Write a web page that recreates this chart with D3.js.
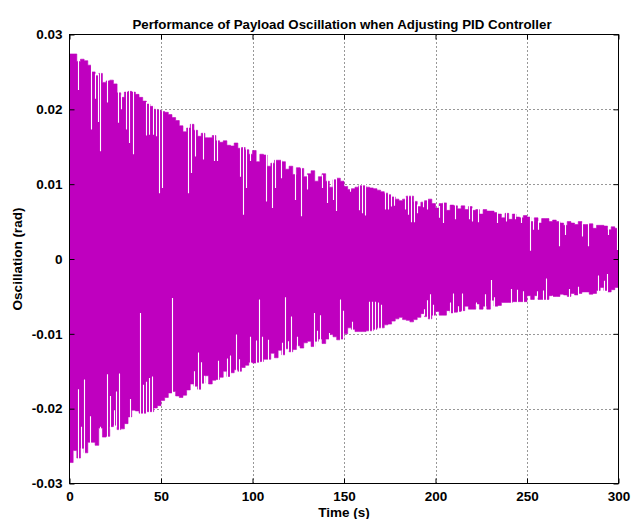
<!DOCTYPE html>
<html>
<head>
<meta charset="utf-8">
<script src="https://cdn.jsdelivr.net/npm/d3@7"></script>
<style>
  html, body { margin: 0; padding: 0; background: #fff; }
  svg { display: block; }
  text { font-family: "Liberation Sans", Arial, Helvetica, sans-serif; font-weight: bold; fill: #000; }
</style>
</head>
<body>
<svg id="chart" width="631" height="519"></svg>
<script>
// ---------- data ----------
const title = "Performance of Payload Oscillation when Adjusting PID Controller";
const xLabel = "Time (s)";
const yLabel = "Oscillation (rad)";
const xTicks = [0, 50, 100, 150, 200, 250, 300];
const yTicks = [-0.03, -0.02, -0.01, 0, 0.01, 0.02, 0.03];

// sampling instants of the peak envelope (s)
const time = [
  0,2,4,6,8,10,12,14,16,18, 20,22,24,26,28,30,32,34,36,38,
  40,42,44,46,48,50,52,54,56,58, 60,62,64,66,68,70,72,74,76,78,
  80,82,84,86,88,90,92,94,96,98, 100,102,104,106,108,110,112,114,116,118,
  120,122,124,126,128,130,132,134,136,138, 140,142,144,146,148,150,152,154,156,158,
  160,162,164,166,168,170,172,174,176,178, 180,182,184,186,188,190,192,194,196,198,
  200,202,204,206,208,210,212,214,216,218, 220,222,224,226,228,230,232,234,236,238,
  240,242,244,246,248,250,252,254,256,258, 260,262,264,266,268,270,272,274,276,278,
  280,282,284,286,288,290,292,294,296,298, 300
];
// positive peaks of the oscillation (rad)
const upperPeak = [
  .0274,.0274,.0264,.0267,.0265,.0259,.0250,.0245,.0248,.0236,
  .0238,.0239,.0234,.0222,.0216,.0223,.0224,.0223,.0220,.0216,
  .0211,.0207,.0204,.0200,.0199,.0197,.0196,.0193,.0189,.0185,
  .0178,.0170,.0175,.0180,.0172,.0164,.0168,.0162,.0162,.0165,
  .0158,.0156,.0158,.0152,.0151,.0155,.0148,.0149,.0146,.0140,
  .0145,.0130,.0140,.0139,.0124,.0128,.0132,.0132,.0130,.0120,
  .0124,.0113,.0122,.0121,.0110,.0114,.0118,.0104,.0110,.0114,
  .0104,.0096,.0106,.0108,.0104,.0097,.0093,.0094,.0096,.0098,
  .0098,.0096,.0095,.0094,.0092,.0090,.0088,.0086,.0083,.0080,
  .0078,.0080,.0084,.0084,.0077,.0070,.0076,.0078,.0080,.0074,
  .0068,.0074,.0075,.0065,.0072,.0071,.0067,.0071,.0066,.0070,
  .0065,.0066,.0060,.0066,.0064,.0064,.0062,.0060,.0055,.0061,
  .0053,.0060,.0056,.0055,.0058,.0056,.0050,.0055,.0048,.0054,
  .0054,.0050,.0052,.0050,.0048,.0045,.0050,.0048,.0046,.0050,
  .0046,.0046,.0047,.0041,.0045,.0045,.0044,.0039,.0043,.0041,
  .0045
];
// negative peaks of the oscillation (rad)
const lowerPeak = [
  -.0272,-.0256,-.0266,-.0253,-.0259,-.0245,-.0245,-.0249,-.0226,-.0238,
  -.0237,-.0224,-.0222,-.0228,-.0227,-.0220,-.0211,-.0202,-.0203,-.0206,
  -.0206,-.0204,-.0204,-.0199,-.0196,-.0189,-.0185,-.0179,-.0177,-.0183,
  -.0185,-.0182,-.0175,-.0167,-.0170,-.0174,-.0166,-.0156,-.0167,-.0162,
  -.0161,-.0158,-.0150,-.0157,-.0152,-.0148,-.0150,-.0145,-.0142,-.0138,
  -.0139,-.0138,-.0137,-.0134,-.0134,-.0126,-.0132,-.0122,-.0128,-.0120,
  -.0124,-.0121,-.0116,-.0119,-.0112,-.0110,-.0117,-.0110,-.0107,-.0113,
  -.0107,-.0101,-.0104,-.0108,-.0107,-.0100,-.0092,-.0094,-.0097,-.0097,
  -.0097,-.0096,-.0096,-.0094,-.0092,-.0092,-.0088,-.0087,-.0083,-.0080,
  -.0078,-.0081,-.0082,-.0084,-.0081,-.0078,-.0073,-.0077,-.0080,-.0075,
  -.0070,-.0075,-.0075,-.0069,-.0072,-.0071,-.0070,-.0069,-.0063,-.0067,
  -.0067,-.0060,-.0067,-.0063,-.0067,-.0055,-.0063,-.0062,-.0058,-.0058,
  -.0058,-.0057,-.0057,-.0057,-.0057,-.0049,-.0054,-.0049,-.0054,-.0054,
  -.0054,-.0049,-.0050,-.0050,-.0047,-.0048,-.0050,-.0046,-.0048,-.0046,
  -.0044,-.0044,-.0047,-.0046,-.0042,-.0038,-.0042,-.0044,-.0041,-.0038,
  -.0036
];
// isolated lower positive peaks (visible as gaps in the upper envelope)
const topDipTime = [
  4.5,11.9,14.1,15.4,16.8, 20.3,26.3,28.1,31,32.7, 34.5,42,43.6,45.4,47.1,
  48.7,50.4,64.6,66.2,68.4, 72.8,78.8,80.4,93,94.6, 96.4,98.8,107.2,110.5,112.3,
  115.6,123.2,126.5,129.8,137.8, 140.7,144.2,145.6,153.3,158, 159.8,161.5,172.4,174.1,175.7,
  177.3,183.3,185,186.6,188.3, 190.1,193.4,195.2,201.7,204.1, 210.5,218.3,220.1,223.2,233.4,
  238.3,243.4,246.9,251.6,253.4, 256.2,267.5,270.8,280.3,283.3, 294.2,299
];
const topDipValue = [
  .0226,.0173,.0214,.0183,.0144, .0209,.0182,.0200,.0173,.0155, .0140,.0165,.0166,.0166,.0164,
  .0088,.0095,.0088,.0115,.0137, .0133,.0131,.0131,.0110,.0059, .0095,.0131,.0077,.0068,.0095,
  .0108,.0079,.0057,.0093,.0095, .0075,.0079,.0064,.0090,.0065, .0061,.0058,.0066,.0066,.0070,
  .0071,.0066,.0059,.0049,.0049, .0061,.0069,.0066,.0055,.0048, .0053,.0053,.0050,.0049,.0048,
  .0050,.0053,.0048,.0011,.0039, .0039,.0017,.0032,.0030,.0017, .0032,.0012
];
// isolated smaller negative peaks (gaps in the lower envelope)
const bottomDipTime = [
  4.8,6.5,8.1,11.4,16.5, 20.7,22.3,24.1,25.6,27.2, 33.2,38.3,40,41.6,43.3,
  44.9,55.8,68.2,70.1,71.7, 73.3,81.1,86.1,87.7,91, 92.6,98.4,101.7,103.4,105,
  108.3,116.1,117.8,119.4,121, 124.3,133.6,135.2,136.9,141.8, 147.8,149.5,154.4,163.7,165.3,
  167,168.6,170.2,193.7,195.4, 197,198.6,208,209.6,212.3, 214.5,222.1,227,230.3,232,
  241.3,244.5,247.8,255.5,258.7, 260.4,263.6,272.9,277.8,288.8, 292.1,293.7
];
const bottomDipValue = [
  -.0174,-.0224,-.0161,-.0210,-.0224, -.0154,-.0183,-.0202,-.0177,-.0153, -.0187,-.0072,-.0168,-.0164,-.0159,
  -.0157,-.0052,-.0150,-.0125,-.0138, -.0156,-.0136,-.0133,-.0129,-.0101, -.0134,-.0104,-.0109,-.0054,-.0104,
  -.0108,-.0112,-.0051,-.0110,-.0077, -.0104,-.0072,-.0096,-.0075,-.0099, -.0054,-.0069,-.0084,-.0057,-.0057,
  -.0057,-.0058,-.0061,-.0067,-.0055, -.0047,-.0061,-.0058,-.0046,-.0063, -.0046,-.0058,-.0047,-.0028,-.0051,
  -.0040,-.0041,-.0043,-.0043,-.0042, -.0026,-.0049,-.0040,-.0037,-.0022, -.0029,-.0020
];

// ---------- layout ----------
const plot = { left: 69.5, right: 618.5, top: 34.5, bottom: 483.5 };
const colorSignal = "#bf00bf";

const svg = d3.select("#chart");
const x = d3.scaleLinear().domain([0, 300]).range([plot.left, plot.right]);
const y = d3.scaleLinear().domain([-0.03, 0.03]).range([plot.bottom, plot.top]);

svg.append("defs").append("clipPath").attr("id", "clip")
  .append("rect").attr("x", plot.left).attr("y", plot.top)
  .attr("width", plot.right - plot.left).attr("height", plot.bottom - plot.top);

// grid (behind data)
const grid = svg.append("g").attr("stroke", "#303030").attr("stroke-width", 1)
  .attr("stroke-dasharray", "1,3").attr("fill", "none");
grid.selectAll("line.gx").data(xTicks.slice(1, -1)).join("line")
  .attr("x1", d => Math.round(x(d)) + 0.5).attr("x2", d => Math.round(x(d)) + 0.5)
  .attr("y1", plot.top).attr("y2", plot.bottom);
grid.selectAll("line.gy").data(yTicks.slice(1, -1)).join("line")
  .attr("y1", d => Math.round(y(d)) + 0.5).attr("y2", d => Math.round(y(d)) + 0.5)
  .attr("x1", plot.left).attr("x2", plot.right);

// signal envelope
const samples = time.map((t, i) => ({ t, hi: upperPeak[i], lo: lowerPeak[i] }));
const area = d3.area()
  .x(d => x(d.t))
  .y0(d => y(d.lo))
  .y1(d => y(d.hi))
  .curve(d3.curveStepAfter);
const dataG = svg.append("g").attr("clip-path", "url(#clip)");
dataG.append("path").datum(samples).attr("d", area)
  .attr("fill", colorSignal).attr("stroke", colorSignal).attr("stroke-width", 0.6);

// gaps where individual peaks fall short of the envelope
const stepIndex = t => Math.min(time.length - 1, Math.floor(t / 2));
const dips = topDipTime.map((t, i) => ({ t, from: upperPeak[stepIndex(t)], to: topDipValue[i] }))
  .concat(bottomDipTime.map((t, i) => ({ t, from: lowerPeak[stepIndex(t)], to: bottomDipValue[i] })));
dataG.selectAll("line.dip").data(dips).join("line")
  .attr("class", "dip")
  .attr("x1", d => Math.round(x(d.t)) + 0.5).attr("x2", d => Math.round(x(d.t)) + 0.5)
  .attr("y1", d => y(d.from) + (d.from > 0 ? -2 : 2)).attr("y2", d => y(d.to))
  .attr("stroke", "#fff").attr("stroke-width", 1.1);

// axes box
const axG = svg.append("g");
axG.append("rect").attr("x", plot.left).attr("y", plot.top)
  .attr("width", plot.right - plot.left).attr("height", plot.bottom - plot.top)
  .attr("fill", "none").attr("stroke", "#000").attr("stroke-width", 1);

const tickLen = 5;
const bottomAxis = d3.axisBottom(x).tickValues(xTicks).tickSizeInner(-tickLen).tickSizeOuter(0).tickPadding(8).tickFormat(d => String(d));
const topAxis = d3.axisTop(x).tickValues(xTicks).tickSizeInner(-tickLen).tickSizeOuter(0).tickFormat("");
const leftAxis = d3.axisLeft(y).tickValues(yTicks).tickSizeInner(-tickLen).tickSizeOuter(0).tickPadding(7)
  .tickFormat(d => d === 0 ? "0" : d.toFixed(2));
const rightAxis = d3.axisRight(y).tickValues(yTicks).tickSizeInner(-tickLen).tickSizeOuter(0).tickFormat("");

function styleAxis(g) {
  g.select(".domain").remove();
  g.selectAll(".tick line").attr("stroke", "#000");
  g.selectAll(".tick text").attr("font-size", 13.5)
    .attr("font-family", '"Liberation Sans", Arial, sans-serif').attr("font-weight", "bold").attr("fill", "#000");
}
svg.append("g").attr("transform", `translate(0,${plot.bottom})`).call(bottomAxis).call(styleAxis);
svg.append("g").attr("transform", `translate(0,${plot.top})`).call(topAxis).call(styleAxis);
svg.append("g").attr("transform", `translate(${plot.left},0)`).call(leftAxis).call(styleAxis);
svg.append("g").attr("transform", `translate(${plot.right},0)`).call(rightAxis).call(styleAxis);

// title and labels
const cx = (plot.left + plot.right) / 2;
svg.append("text").attr("x", cx - 2).attr("y", 29).attr("text-anchor", "middle")
  .attr("font-size", 13.3).text(title);
svg.append("text").attr("x", cx).attr("y", 517).attr("text-anchor", "middle")
  .attr("font-size", 13.5).text(xLabel);
svg.append("text").attr("transform", `translate(22,${(plot.top + plot.bottom) / 2}) rotate(-90)`)
  .attr("text-anchor", "middle").attr("font-size", 13.5).text(yLabel);
</script>
</body>
</html>
